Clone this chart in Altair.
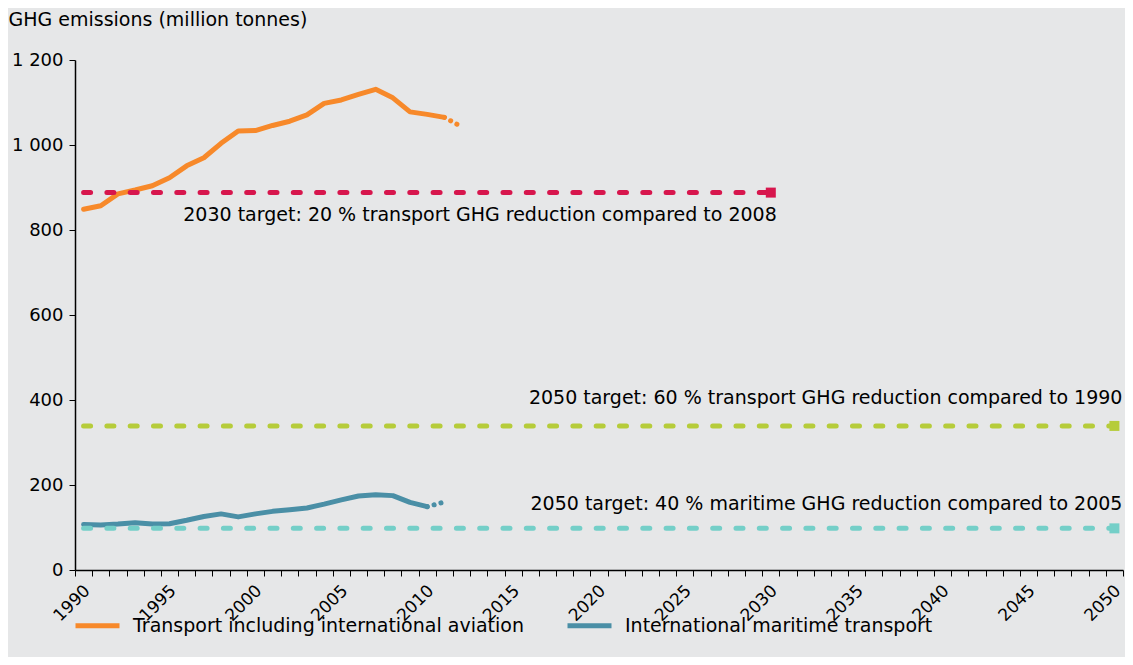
import altair as alt
import pandas as pd

years = list(range(1990, 2012))
aviation = [849, 857, 885, 894, 904, 923, 951, 970, 1004, 1033, 1034, 1046,
            1056, 1071, 1098, 1106, 1119, 1131, 1111, 1078, 1072, 1065]
maritime_years = list(range(1990, 2011))
maritime = [107, 106, 108, 111, 108, 109, 117, 126, 132, 125, 132, 138,
            142, 146, 155, 165, 174, 177, 175, 159, 149]

aviation_proxy_years = [2011, 2012]
aviation_proxy = [1065, 1043]
maritime_proxy_years = [2010, 2011]
maritime_proxy = [149, 160]

series_names = ["Transport including international aviation", "International maritime transport"]
series_colors = ["#F7892A", "#4A8FA6"]

target_names = ["2030 target: 20 % transport GHG reduction compared to 2008",
                "2050 target: 60 % transport GHG reduction compared to 1990",
                "2050 target: 40 % maritime GHG reduction compared to 2005"]
target_values = [888, 339, 98]
target_end_years = [2030, 2050, 2050]
target_colors = ["#D7164D", "#B6CC3A", "#74CFC8"]
target_label_dy = [22, -28, -24]
target_label_dx = [6, 8, 8]

rows = []
for y, v in zip(years, aviation):
    rows.append({"year": y, "value": v, "series": series_names[0]})
for y, v in zip(maritime_years, maritime):
    rows.append({"year": y, "value": v, "series": series_names[1]})
df = pd.DataFrame(rows)

prows = []
for y, v in zip(aviation_proxy_years, aviation_proxy):
    prows.append({"year": y, "value": v, "series": series_names[0]})
for y, v in zip(maritime_proxy_years, maritime_proxy):
    prows.append({"year": y, "value": v, "series": series_names[1]})
pdf = pd.DataFrame(prows)

FONT = "DejaVu Sans"
W = 1048
BAND = W / 61.0

# ticks at category boundaries; labels shifted to category centres
tick_vals = [y - 0.5 for y in range(1990, 2052)]

x_axis = alt.Axis(
    values=tick_vals, tickCount=200,
    labelExpr="(datum.value + 0.5) % 5 === 0 && datum.value < 2050.5 ? format(datum.value + 0.5, 'd') : ''",
    labelOffset=BAND / 2 - 12,
    labelAngle=-45, labelAlign="center", labelBaseline="middle",
    labelOverlap=False, labelBound=False, labelFlush=False, labelPadding=27,
    tickSize=6, tickColor="black", domainColor="black", domainWidth=1.5,
    labelFontSize=17, labelColor="black", labelFont=FONT, title=None, grid=False,
)
y_axis = alt.Axis(
    values=[0, 200, 400, 600, 800, 1000, 1200], tickCount=20,
    labelExpr="replace(format(datum.value, ','), ',', ' ')",
    tickSize=6, tickColor="black", domainColor="black", domainWidth=1.5,
    labelFontSize=18, labelColor="black", labelFont=FONT, labelPadding=6,
    title="GHG emissions (million tonnes)", titleAngle=0, titleAlign="left",
    titleBaseline="middle", titleX=-67, titleY=-41, titleFontSize=19,
    titleFontWeight="normal", titleFont=FONT, titleColor="black", grid=False,
)

xs = alt.Scale(domain=[1989.5, 2050.5], nice=False, zero=False)
ys = alt.Scale(domain=[0, 1200], nice=False)
cs = alt.Scale(domain=series_names, range=series_colors)

lines = alt.Chart(df).mark_line(strokeWidth=5, strokeJoin="round", strokeCap="round").encode(
    x=alt.X("year:Q", scale=xs, axis=x_axis),
    y=alt.Y("value:Q", scale=ys, axis=y_axis),
    color=alt.Color("series:N", scale=cs, sort=series_names, legend=alt.Legend(
        title=None, orient="none", legendX=-2, legendY=541, direction="horizontal",
        symbolType="stroke", symbolStrokeWidth=5, symbolSize=1936,
        labelFontSize=19, labelFont=FONT, labelColor="black", labelOffset=11,
        columnPadding=33, labelLimit=700,
    )),
    detail="series:N",
)

proxy = alt.Chart(pdf).mark_line(strokeWidth=5, strokeCap="round", strokeDash=[0.1, 7]).encode(
    x=alt.X("year:Q", scale=xs),
    y=alt.Y("value:Q", scale=ys),
    color=alt.Color("series:N", scale=cs, sort=series_names),
    detail="series:N",
)

layers = [lines, proxy]
for name, val, end, col, dy, dx in zip(target_names, target_values, target_end_years,
                                       target_colors, target_label_dy, target_label_dx):
    tdf = pd.DataFrame({"year": [1990, end], "value": [val, val]})
    layers.append(alt.Chart(tdf).mark_line(strokeWidth=5, strokeCap="round", strokeDash=[7, 16.3], color=col).encode(
        x=alt.X("year:Q", scale=xs), y=alt.Y("value:Q", scale=ys)))
    edf = pd.DataFrame({"year": [end], "value": [val]})
    layers.append(alt.Chart(edf).mark_point(shape="square", filled=True, size=100, color=col, opacity=1).encode(
        x=alt.X("year:Q", scale=xs), y=alt.Y("value:Q", scale=ys)))
    ldf = pd.DataFrame({"year": [end], "value": [val], "label": [name]})
    layers.append(alt.Chart(ldf).mark_text(align="right", baseline="middle", dy=dy, dx=dx, fontSize=19,
                                            font=FONT, color="black").encode(
        x=alt.X("year:Q", scale=xs), y=alt.Y("value:Q", scale=ys), text="label:N"))

chart = alt.layer(*layers).properties(
    width=W, height=510,
    background="#E6E7E8",
    padding={"left": 67, "top": 52, "right": 2, "bottom": 87},
    autosize=alt.AutoSizeParams(type="none"),
).configure_view(stroke=None)

chart.save("out.html", embed_options={"renderer": "svg", "actions": False})
